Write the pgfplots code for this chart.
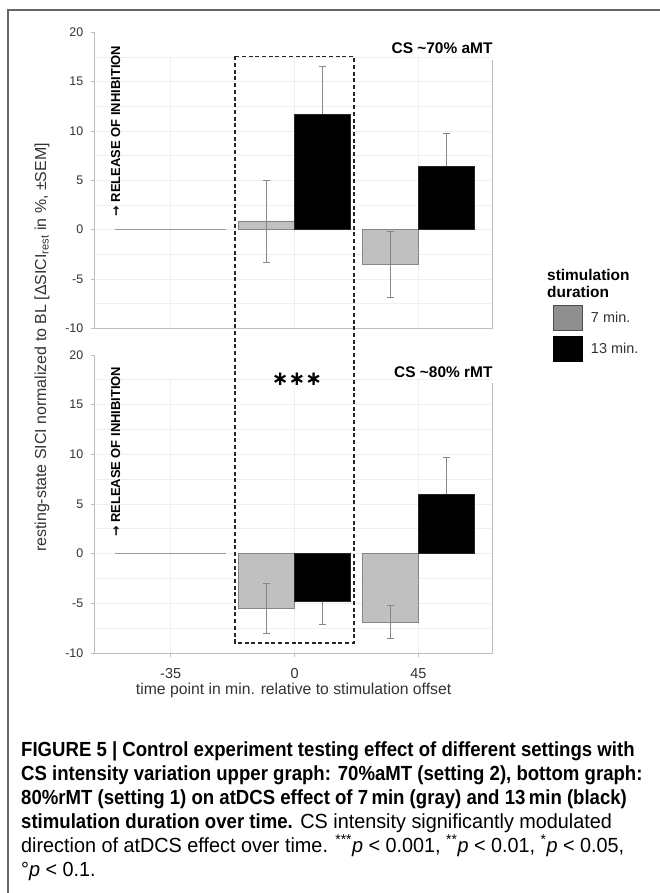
\documentclass[border=0pt]{standalone}
\usepackage{pgfplots}
\pgfplotsset{compat=1.18}
\usepackage{fontspec}
\setmainfont{Liberation Sans}
\newfontfamily\dejavu{DejaVu Sans}
\newfontfamily\capbold{Liberation Sans Bold}[FakeStretch=0.91]
\newfontfamily\capreg{Liberation Sans}[FakeStretch=0.97, ItalicFont={Liberation Sans Italic}]
\definecolor{bargray}{HTML}{C0C0C0}
\definecolor{bargrayedge}{HTML}{858585}
\definecolor{leggray}{HTML}{8F8F8F}
\definecolor{errgray}{HTML}{868686}
\definecolor{gridgray}{HTML}{EFEFEF}
\definecolor{axisgray}{HTML}{BDBDBD}
\definecolor{framegray}{HTML}{666666}
\definecolor{txt}{HTML}{333333}

\pgfplotsset{
  panel/.style={
    scale only axis, width=398.2bp,
    xmin=-0.615, xmax=2.6, ymin=-10, ymax=20,
    axis x line*=bottom, axis y line*=left,
    axis line style={axisgray, line width=0.9bp, -},
    ytick={-10,-5,0,5,10,15,20},
    yticklabels={-10,-5,0,5,10,15,20},
    tick align=outside, major tick length=4bp,
    tick style={axisgray, line width=0.9bp},
    yticklabel style={font=\fontsize{12.5}{14}\selectfont, text=txt, anchor=east, inner sep=0pt, xshift=-7bp},
    xticklabel style={font=\fontsize{14.5}{16}\selectfont, text=txt, anchor=base, inner sep=0pt, yshift=-21bp},
    clip=false,
  },
  errplot/.style={forget plot, draw=none, mark=none,
    error bars/.cd, y dir=both, y explicit,
    error bar style={draw=errgray, line width=0.8bp},
    error mark=|,
    error mark options={draw=errgray, mark size=3.5bp, line width=0.8bp}},
  graybar/.style={ybar, bar width=0.45, bar shift=-0.225, fill=bargray, draw=bargrayedge, line width=0.8bp, forget plot},
  blackbar/.style={ybar, bar width=0.45, bar shift=0.225, fill=black, draw=black!85, line width=0.8bp, forget plot},
  legbox/.style={legend image code/.code={\draw[#1, line width=1bp] (0bp,-12.5bp) rectangle (29bp,12.5bp);}},
}
\newcommand\gridlines{%
  \pgfplotsinvokeforeach{-7.5,-5,-2.5,0,2.5,5,7.5,10,12.5,15,17.5}{%
    \draw[gridgray, line width=0.8bp] (axis cs:-0.615,##1) -- (axis cs:2.6,##1);}%
  \pgfplotsinvokeforeach{0,1,2}{%
    \draw[gridgray, line width=0.8bp] (axis cs:##1,-10) -- (axis cs:##1,17.5);}%
  \draw[axisgray, line width=0.8bp] (axis cs:2.6,-10) -- (axis cs:2.6,17.2);%
}
\newcommand\release{{\dejavu\bfseries\fontsize{12.5}{14}\selectfont →}\ RELEASE OF INHIBITION}

\begin{document}
\begin{tikzpicture}
\useasboundingbox (0bp,0bp) rectangle (660bp,-893bp);
\fill[white] (0bp,0bp) rectangle (660bp,-893bp);
\draw[framegray, line width=1.5bp] (8bp,-893bp) -- (8bp,-10bp) -- (661bp,-10bp);

% ---------- top panel ----------
\begin{axis}[panel, name=top, at={(94.5bp,-328.3bp)}, anchor=south west, height=296bp,
  xtick=\empty, legbox,
  legend style={at={(axis description cs:1.1514,0.0787)}, anchor=north west, draw=none, fill=none,
    inner sep=0pt, outer sep=0pt, row sep=5bp, column sep=8bp,
    font=\fontsize{14.5}{16}\selectfont, text=txt, nodes={inner sep=0pt}},
  legend cell align=left]
\gridlines
\addplot[forget plot, color=black!40, line width=1.2bp] coordinates {(-0.45,0) (0.45,0)};
\addplot[graybar] coordinates {(1,0.88) (2,-3.51)};
\addplot[errplot] coordinates {(0.775,0.88) +- (0,4.15) (1.775,-3.51) +- (0,3.35)};
\addplot[errplot] coordinates {(1.225,11.65) +- (0,4.9) (2.225,6.42) +- (0,3.34)};
\addplot[blackbar] coordinates {(1,11.65) (2,6.42)};
\addlegendimage{fill=leggray, draw=black!70}
\addlegendentry{7 min.}
\addlegendimage{fill=black, draw=black}
\addlegendentry{13 min.}
\node[anchor=base east, inner sep=1.5bp, xshift=1.5bp, fill=white, font=\bfseries\fontsize{15.5}{17}\selectfont] at (axis cs:2.6,17.88) {CS \textasciitilde 70\% aMT};
\node[rotate=90, anchor=base west, inner sep=0pt, font=\bfseries\fontsize{13}{15}\selectfont] at (axis cs:-0.409,1.35) {\release};
\coordinate (boxtl) at (axis cs:0.52,17.56);
\end{axis}

% ---------- bottom panel ----------
\begin{axis}[panel, name=bot, at={(94.5bp,-653bp)}, anchor=south west, height=298bp,
  xtick={0,1,2}, xticklabels={-35,0,45},
  xlabel={time point in min. relative to stimulation offset},
  xlabel style={at={(axis description cs:0.5,0)}, anchor=center, yshift=-37bp, inner sep=0pt,
    font=\fontsize{15.8}{18}\selectfont, text=txt}]
\gridlines
\addplot[forget plot, color=black!40, line width=1.2bp] coordinates {(-0.45,0) (0.45,0)};
\addplot[graybar] coordinates {(1,-5.53) (2,-6.88)};
\addplot[errplot] coordinates {(0.775,-5.53) +- (0,2.52) (1.775,-6.88) +- (0,1.65)};
\addplot[errplot] coordinates {(1.225,-4.77) +- (0,2.38) (2.225,5.97) +- (0,3.75)};
\addplot[blackbar] coordinates {(1,-4.77) (2,5.97)};
\node[anchor=base east, inner sep=1.5bp, xshift=1.5bp, fill=white, font=\bfseries\fontsize{15.5}{17}\selectfont] at (axis cs:2.6,17.77) {CS \textasciitilde 80\% rMT};
\node[rotate=90, anchor=base west, inner sep=0pt, font=\bfseries\fontsize{13}{15}\selectfont] at (axis cs:-0.409,1.67) {\release};
\node[inner sep=0pt, font=\dejavu\bfseries\fontsize{20}{22}\selectfont] at (axis cs:1.02,17.6) {∗∗∗};
\coordinate (boxbr) at (axis cs:1.48,-9.0);
\end{axis}

\draw[black!85, line width=1.2bp, dash pattern=on 4bp off 2.7bp] (boxtl) rectangle (boxbr);

% shared y label
\node[rotate=90, inner sep=0pt, font=\fontsize{16}{18}\selectfont, text=txt] at (42bp,-347.5bp)
  {resting-state SICI normalized to BL [ΔSICI\textsubscript{rest} in \%, ±SEM]};

% legend title
\node[anchor=base west, inner sep=0pt, font=\bfseries\fontsize{15.5}{17}\selectfont] at (547bp,-280bp) {stimulation};
\node[anchor=base west, inner sep=0pt, font=\bfseries\fontsize{15.5}{17}\selectfont] at (547bp,-297bp) {duration};

% caption
\begin{scope}[every node/.style={anchor=base west, inner sep=0pt, font=\fontsize{20.5}{24}\selectfont}]
\node at (21bp,-756bp) {\capbold FIGURE 5 | Control experiment testing effect of different settings with};
\node at (21bp,-780bp) {\capbold CS intensity variation upper graph: 70\%aMT (setting 2), bottom graph:};
\node at (21bp,-804bp) {\capbold 80\%rMT (setting 1) on atDCS effect of 7\,min (gray) and 13\,min (black)};
\node at (21bp,-828bp) {{\capbold stimulation duration over time.} \capreg CS intensity significantly modulated};
\node at (21bp,-852bp) {\capreg direction of atDCS effect over time. \textsuperscript{***}\textit{p} < 0.001, \textsuperscript{**}\textit{p} < 0.01, \textsuperscript{*}\textit{p} < 0.05,};
\node at (21bp,-876bp) {\capreg °\textit{p} < 0.1.};
\end{scope}
\end{tikzpicture}
\end{document}
